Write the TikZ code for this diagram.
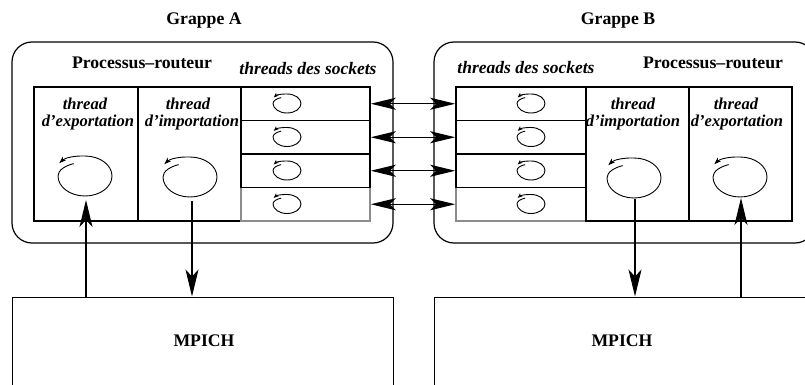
\documentclass[tikz,border=0pt]{standalone}
\usepackage{fontspec}
\setmainfont{Liberation Serif}
\usetikzlibrary{arrows.meta}
\newcommand\myloop[5]{%
  \begin{scope}[shift={(#1,#2)}, x=#3pt, y=#4pt]
    \draw[line width=0.9pt, -{Stealth[#5]}] (-0.42,0.62) .. controls (-0.72,0.52) and (-1,0.3) .. (-1,0)
      arc[start angle=180, end angle=450, x radius=1, y radius=1]
      .. controls (-0.4,1.02) and (-0.75,0.9) .. (-0.95,0.64);
  \end{scope}}
\begin{document}
\begin{tikzpicture}[x=1pt,y=-1pt,
  txt/.style={font=\fontsize{17.7}{20}\selectfont\bfseries, inner sep=0pt},
  itxt/.style={font=\fontsize{17.5}{19}\selectfont\bfseries\itshape, inner sep=0pt},
  ctxt/.style={font=\fontsize{16.6}{19}\selectfont\bfseries\itshape, inner sep=0pt},
  cluster/.style={draw, line width=1.2pt, rounded corners=20pt, minimum width=381pt, minimum height=201pt, inner sep=0pt},
  colbox/.style={draw, line width=1.5pt, minimum height=134pt, inner sep=0pt},
  sock/.style={draw, line width=1.5pt, minimum width=#1, minimum height=33.5pt, inner sep=0pt},
  sockgray/.style={draw=black!45, line width=1.5pt, minimum width=#1, minimum height=33.5pt, inner sep=0pt},
  mpbox/.style={draw, line width=1pt, minimum width=381pt, minimum height=123pt, inner sep=0pt},
  varr/.style={line width=1.1pt, -{Stealth[length=27pt,width=13pt,inset=7pt]}},
  dbl/.style={line width=1.3pt, {Stealth[length=25pt,width=12pt,inset=6pt]}-{Stealth[length=25pt,width=12pt,inset=6pt]}}
]
\useasboundingbox (0,0) rectangle (805,385);
\clip (0,0) rectangle (805,385);

% titles
\node[txt] (gA) at (204,21) {Grappe A};
\node[txt] (gB) at (618,21) {Grappe B};

% clusters
\node[cluster] (clA) at (202.5,142.5) {};
\node[cluster] (clB) at (624.5,142.5) {};

\node[txt] (prA) at (142,63) {Processus--routeur};
\node[txt] (prB) at (713,63) {Processus--routeur};
\node[itxt] (thA) at (308,68.5) {threads des sockets};
\node[itxt] (thB) at (526,67.5) {threads des sockets};

% cluster A cells
\node[colbox, minimum width=104pt] (expA) at (86,154) {};
\node[colbox, minimum width=103pt] (impA) at (189.5,154) {};
\node[sockgray=129pt] (sA4) at (305.5,204.25) {};
\node[sock=129pt] (sA1) at (305.5,103.75) {};
\node[sock=129pt] (sA2) at (305.5,137.25) {};
\node[sock=129pt] (sA3) at (305.5,170.75) {};

% cluster B cells
\node[sockgray=130pt] (sB4) at (521,204.25) {};
\node[sock=130pt] (sB1) at (521,103.75) {};
\node[sock=130pt] (sB2) at (521,137.25) {};
\node[sock=130pt] (sB3) at (521,170.75) {};
\node[colbox, minimum width=103pt] (impB) at (637.5,154) {};
\node[colbox, minimum width=103pt] (expB) at (740.5,154) {};

% column labels
\node[ctxt] (teA) at (85,103.5) {thread};
\node[ctxt] (deA) at (88,122.5) {d'exportation};
\node[ctxt] (tiA) at (188,103.5) {thread};
\node[ctxt] (diA) at (192,122.5) {d'importation};
\node[ctxt] (tiB) at (633,103.5) {thread};
\node[ctxt] (diB) at (633,122.5) {d'importation};
\node[ctxt] (teB) at (736,103.5) {thread};
\node[ctxt] (deB) at (737,122.5) {d'exportation};

% loops
\myloop{85}{176}{27}{20}{length=7pt,width=5pt,inset=2pt}
\myloop{190}{177}{27}{20}{length=7pt,width=5pt,inset=2pt}
\myloop{634}{178}{27}{20}{length=7pt,width=5pt,inset=2pt}
\myloop{740}{177}{27}{20}{length=7pt,width=5pt,inset=2pt}
\foreach \yy in {103.5,137,170.5,204}{
  \myloop{287}{\yy}{14}{9.5}{length=5pt,width=4pt,inset=1.5pt}
  \myloop{531}{\yy}{14}{9.5}{length=5pt,width=4pt,inset=1.5pt}
}

% socket links
\draw[dbl] (sA1.east) -- (sB1.west);
\draw[dbl] (sA2.east) -- (sB2.west);
\draw[dbl] (sA3.east) -- (sB3.west);
\draw[dbl] (sA4.east) -- (sB4.west);

% MPICH boxes
\node[mpbox] (mpA) at (202.5,358.5) {};
\node[mpbox] (mpB) at (624.5,358.5) {};
\node[txt] (mtA) at (204,341) {MPICH};
\node[txt] (mtB) at (622,341) {MPICH};

% vertical arrows
\coordinate (aA1) at (86,200);
\coordinate (aA2) at (192,201);
\coordinate (aB1) at (635,199);
\coordinate (aB2) at (741,198);
\draw[varr] (mpA.north -| aA1) -- (aA1);
\draw[varr] (aA2) -- (aA2 |- mpA.north);
\draw[varr] (aB1) -- (aB1 |- mpB.north);
\draw[varr] (mpB.north -| aB2) -- (aB2);
\end{tikzpicture}
\end{document}
